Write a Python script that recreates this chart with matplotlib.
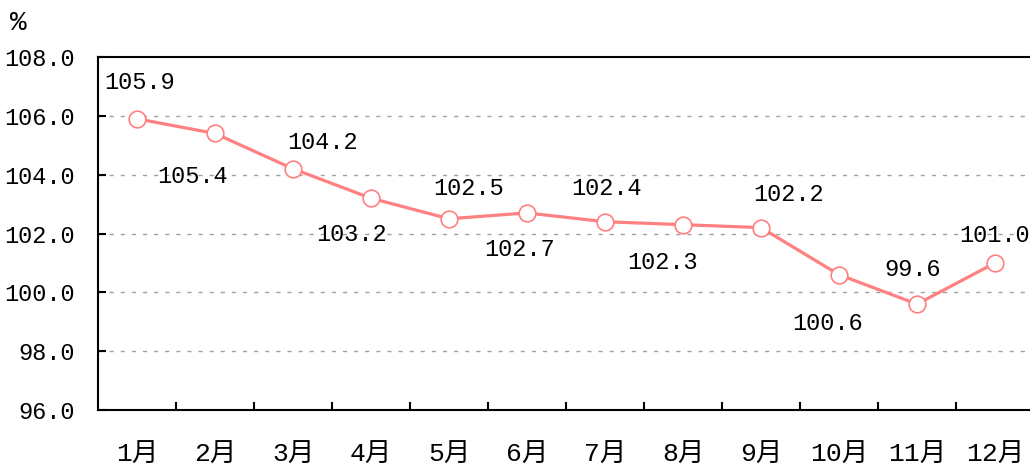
import matplotlib
matplotlib.use("Agg")
import matplotlib.pyplot as plt
from matplotlib.ticker import FixedLocator

plt.rcParams['font.family'] = ['Liberation Mono', 'Noto Sans CJK SC']

months = ["1月", "2月", "3月", "4月", "5月", "6月",
          "7月", "8月", "9月", "10月", "11月", "12月"]
values = [105.9, 105.4, 104.2, 103.2, 102.5, 102.7,
          102.4, 102.3, 102.2, 100.6, 99.6, 101.0]
yticks = [96.0, 98.0, 100.0, 102.0, 104.0, 106.0, 108.0]

# label offsets in points (dx, dy) relative to each marker
label_offsets = [(2, 26), (-16, -31), (21, 19), (-14, -26), (14, 22), (-5, -26),
                 (1, 24), (-15, -27), (20, 24), (-8, -35), (-3, 25), (0, 20)]

line_color = "#ff8080"
fs = 17

fig = plt.figure(figsize=(10.3, 4.7), dpi=100)
ax = fig.add_axes([98 / 1030, 1 - 410 / 470, 936 / 1030, 353 / 470])

x = list(range(len(values)))
ax.plot(x, values, color=line_color, linewidth=2.3, marker="o",
        markersize=12, markerfacecolor="white", markeredgecolor=line_color,
        markeredgewidth=1.2, zorder=3, clip_on=False)

for i, v in enumerate(values):
    dx, dy = label_offsets[i]
    ax.annotate(f"{v:.1f}", (i, v), xytext=(dx, dy), textcoords="offset points",
                ha="center", va="center", fontsize=fs, color="black")

ax.set_xlim(-0.5, len(values) - 0.5)
ax.set_ylim(96, 108)
ax.set_yticks(yticks)
ax.set_yticklabels([f"{t:.1f}" for t in yticks], fontsize=fs)
ax.set_xticks(x)
ax.set_xticklabels(months, fontsize=19)
ax.tick_params(axis="x", length=0, pad=24)
ax.xaxis.set_minor_locator(FixedLocator([i + 0.5 for i in range(len(values) - 1)]))
ax.tick_params(axis="x", which="minor", direction="in", length=6, width=1.5)
ax.tick_params(axis="y", direction="in", length=6, width=1.5, pad=17)

for t in yticks[1:-1]:
    ax.axhline(t, color="#a0a0a0", linewidth=1, linestyle=(0, (3, 5)), zorder=1)

for s in ax.spines.values():
    s.set_linewidth(1.5)

fig.text(10 / 1030, 1 - 23 / 470, "%", fontsize=20, ha="left", va="center")

fig.savefig("out.png", dpi=100)
